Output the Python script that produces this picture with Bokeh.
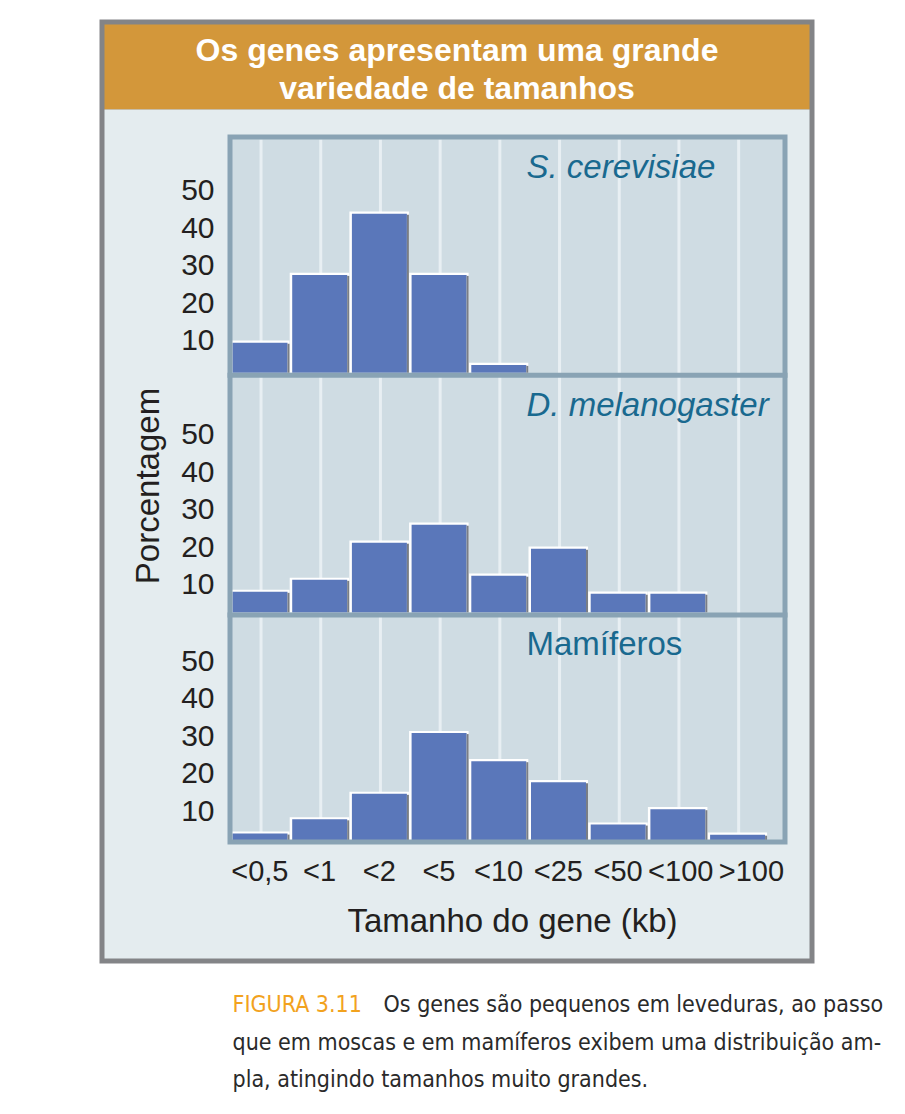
import math
from bokeh.plotting import figure
from bokeh.models import Range1d, ColumnDataSource
from bokeh.embed import file_html
from bokeh.resources import INLINE
from bokeh.core.properties import value

# ---------------- data ----------------
categories = ["<0,5", "<1", "<2", "<5", "<10", "<25", "<50", "<100", ">100"]
yeast = [8.6, 26.7, 43.0, 26.7, 2.7, 0, 0, 0, 0]
fly = [6.1, 9.3, 19.2, 24.0, 10.4, 17.6, 5.6, 5.6, 0]
mammals = [2.3, 6.1, 12.9, 29.1, 21.6, 16.0, 4.7, 8.8, 2.0]
y_ticks = [10, 20, 30, 40, 50]
species = ["S. cerevisiae", "D. melanogaster", "Mamíferos"]
title_lines = ["Os genes apresentam uma grande", "variedade de tamanhos"]
x_title = "Tamanho do gene (kb)"
y_title = "Porcentagem"
caption_tag = "FIGURA 3.11"
caption_lines = ["Os genes são pequenos em leveduras, ao passo",
                 "que em moscas e em mamíferos exibem uma distribuição am-",
                 "pla, atingindo tamanhos muito grandes."]

# ---------------- layout / style ----------------
ORIGIN = 1                     # page coordinate of the canvas' top-left corner
W, H = 896, 1100
X0, PITCH = 230.5, 59.7        # page x of first bin, bin pitch (px)
K = 3.75                       # px per percent
BASELINES = [373.3, 613.0, 840.5]
DY = -9                        # text baseline correction (px)
TICK_YOFF = [14 + DY, 18 + DY, 17 + DY]
SPECIES_Y = [175.5 + DY, 414.0 + DY, 653.0 + DY]
SPECIES_STYLE = ["italic", "italic", "normal"]
XLAB_XOFF = [0, 0, 0, 0, 0, 0, 0, 3, 14]

GRAY = "#838487"
ORANGE = "#D3973A"
LIGHT = "#E4ECEF"
PANEL = "#CFDCE3"
PBORDER = "#89A3B4"
GRID = "#E8EFF3"
BAR = "#5A77BA"
SHADOW = "#7A7E85"
SPECIES_COL = "#19698F"
TXT = "#231F20"
FONT = value("Liberation Sans")
CFONT = value("'DejaVu Sans Condensed', 'Liberation Sans', sans-serif")

p = figure(width=W, height=H, output_backend="svg", toolbar_location=None,
           x_range=Range1d(ORIGIN, ORIGIN + W), y_range=Range1d(ORIGIN + H, ORIGIN),
           x_axis_type=None, y_axis_type=None, min_border=0)
p.grid.visible = False
p.outline_line_color = None
p.background_fill_color = "white"
p.border_fill_color = "white"

p.extra_x_ranges = {"bins": Range1d((ORIGIN - X0) / PITCH, (ORIGIN + W - X0) / PITCH)}
names = ["p1", "p2", "p3"]
p.extra_y_ranges = {n: Range1d((b - ORIGIN - H) / K, (b - ORIGIN) / K)
                    for n, b in zip(names, BASELINES)}

# frame and backgrounds (decoration, page coordinates)
p.quad(left=[100], right=[815], top=[20], bottom=[964], fill_color=GRAY, line_color=None)
p.quad(left=[105], right=[810], top=[25], bottom=[110], fill_color=ORANGE, line_color=None)
p.quad(left=[105], right=[810], top=[110], bottom=[959], fill_color=LIGHT, line_color=None)
p.quad(left=[230], right=[786], top=[137], bottom=[843], fill_color=PANEL, line_color=None)

n = len(categories)
idx = list(range(n))
# vertical light grid lines at bin centres
p.segment(x0=[i + 0.52 for i in idx], x1=[i + 0.52 for i in idx],
          y0=[140] * n, y1=[840] * n, line_color=GRID, line_width=3,
          x_range_name="bins")

# bars
for series, rn in zip([yeast, fly, mammals], names):
    ii = [i for i, v in zip(idx, series) if v > 0]
    vv = [v for v in series if v > 0]
    src = ColumnDataSource(dict(
        wl=[i for i in ii], wr=[i + 59.5 / PITCH for i in ii], wt=vv,
        bl=[i + 2.5 / PITCH for i in ii], br=[i + 57.5 / PITCH for i in ii],
        bt=[v - 2.2 / K for v in vv],
        sl=[i + 57.5 / PITCH for i in ii], sr=[i + 59.5 / PITCH for i in ii],
        st=[v - 3.2 / K for v in vv], z=[0] * len(ii)))
    p.quad(left="wl", right="wr", top="wt", bottom="z", source=src,
           fill_color="white", line_color=None, x_range_name="bins", y_range_name=rn)
    p.quad(left="bl", right="br", top="bt", bottom="z", source=src,
           fill_color=BAR, line_color=None, x_range_name="bins", y_range_name=rn)
    p.quad(left="sl", right="sr", top="st", bottom="z", source=src,
           fill_color=SHADOW, line_color=None, x_range_name="bins", y_range_name=rn)

# panel border and separators
p.quad(left=[230.5], right=[785.5], top=[137.5], bottom=[842.5], fill_color=None,
       line_color=PBORDER, line_width=5, line_join="miter")
p.quad(left=[228, 228], right=[788, 788], top=[BASELINES[0], BASELINES[1]],
       bottom=[BASELINES[0] + 5, BASELINES[1] + 5], fill_color=PBORDER, line_color=None)

# y tick labels in each panel
for rn, yo in zip(names, TICK_YOFF):
    p.text(x=[215] * len(y_ticks), y=y_ticks, text=[str(t) for t in y_ticks],
           y_range_name=rn, text_align="right", text_baseline="alphabetic",
           text_font=FONT, text_font_size="30px", text_color=TXT, y_offset=yo)

# species labels
for s, sy, st in zip(species, SPECIES_Y, SPECIES_STYLE):
    p.text(x=[527], y=[sy], text=[s], text_align="left", text_baseline="alphabetic",
           text_font=FONT, text_font_size="33px", text_font_style=st,
           text_color=SPECIES_COL)

# x tick labels
xsrc = ColumnDataSource(dict(x=[i + 0.5 for i in idx], y=[880 + DY] * n, t=categories,
                             xo=XLAB_XOFF))
p.text(x="x", y="y", text="t", x_offset="xo", source=xsrc, x_range_name="bins",
       text_align="center", text_baseline="alphabetic", text_font=FONT,
       text_font_size="29px", text_color=TXT)

# axis titles
p.text(x=[513], y=[930 + DY], text=[x_title], text_align="center", text_baseline="alphabetic",
       text_font=FONT, text_font_size="33px", text_color=TXT)
p.text(x=[157 + DY], y=[486.5], text=[y_title], angle=math.pi / 2, text_align="center",
       text_baseline="alphabetic", text_font=FONT, text_font_size="33px", text_color=TXT)

# title
p.text(x=[457.5, 457.5], y=[59 + DY, 97 + DY], text=title_lines, text_align="center",
       text_baseline="alphabetic", text_font=FONT, text_font_size="32px",
       text_font_style="bold", text_color="white")

# caption
p.text(x=[233], y=[1013 + DY], text=[caption_tag], text_align="left", text_baseline="alphabetic",
       text_font=CFONT, text_font_size="23px", text_color="#F2A21E")
p.text(x=[384, 233, 233], y=[1013 + DY, 1051 + DY, 1088 + DY], text=caption_lines,
       text_align="left", text_baseline="alphabetic", text_font=CFONT,
       text_font_size="23px", text_color="#2A2A2A")

open("out.html", "w").write(file_html(p, INLINE))
